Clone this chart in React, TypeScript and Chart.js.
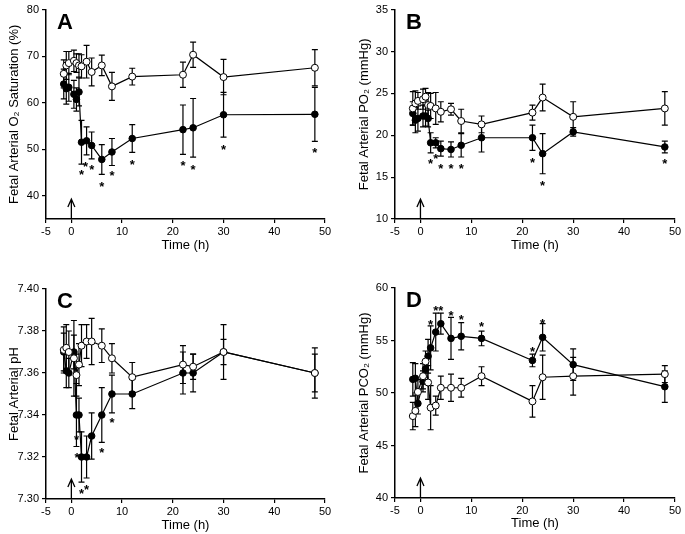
import React, { useEffect, useRef } from "react";
import { Chart, registerables } from "chart.js";
Chart.register(...registerables);

const times = [-1.5, -1, -0.5, 0.5, 1, 1.5, 2, 3, 4, 6, 8, 12, 22, 24, 30, 48];
const xTickValues = [-5, 0, 10, 20, 30, 40, 50];

// Panel A: O2 saturation (%)
const aOpen = [66.2, 68.0, 68.5, 69.0, 68.5, 68.0, 67.8, 68.8, 66.6, 68.0, 63.5, 65.6, 66.0, 70.3, 65.5, 67.5];
const aOpenErr = [3.0, 3.0, 2.5, 2.3, 2.0, 2.5, 2.5, 3.5, 3.0, 2.2, 3.0, 1.8, 2.7, 2.7, 3.8, 3.9];
const aClosed = [64.0, 63.0, 63.3, 61.8, 60.7, 62.3, 51.5, 51.8, 50.8, 47.8, 49.4, 52.3, 54.2, 54.6, 57.4, 57.5];
const aClosedErr = [3.2, 3.3, 3.0, 3.0, 2.5, 3.0, 4.7, 3.0, 2.9, 3.2, 2.9, 3.0, 5.3, 6.3, 4.8, 5.8];
const aStarsX = [2, 2.8, 4, 6, 8, 12, 22, 24, 30, 48];
const aStarsY = [45.3, 47.0, 46.4, 42.8, 45.2, 47.5, 47.2, 46.4, 50.7, 50.1];
const aYTicks = [40, 50, 60, 70, 80];

// Panel B: PO2 (mmHg)
const bOpen = [23.2, 23.8, 24.1, 24.3, 24.6, 23.6, 23.5, 23.2, 22.8, 23.1, 21.7, 21.3, 22.7, 24.5, 22.2, 23.2];
const bOpenErr = [2.0, 1.5, 1.0, 1.2, 1.0, 1.5, 1.5, 1.9, 1.2, 0.7, 1.4, 1.0, 0.9, 1.6, 1.8, 2.0];
const bClosed = [22.6, 21.8, 22.0, 22.3, 22.3, 22.0, 19.1, 19.1, 18.4, 18.3, 18.8, 19.7, 19.7, 17.8, 20.4, 18.6];
const bClosedErr = [1.4, 1.5, 1.5, 1.3, 1.2, 1.0, 1.2, 0.6, 0.9, 0.9, 1.4, 1.7, 1.5, 2.4, 0.5, 0.7];
const bStarsX = [2, 3, 4, 6, 8, 22, 24, 48];
const bStarsY = [17.0, 17.7, 16.5, 16.5, 16.5, 17.2, 14.4, 17.0];
const bYTicks = [10, 15, 20, 25, 30, 35];

// Panel C: pH
const cOpen = [7.371, 7.372, 7.370, 7.367, 7.359, 7.364, 7.373, 7.375, 7.375, 7.373, 7.367, 7.358, 7.364, 7.363, 7.370, 7.360];
const cOpenErr = [0.011, 0.011, 0.010, 0.018, 0.010, 0.010, 0.010, 0.008, 0.011, 0.008, 0.007, 0.007, 0.009, 0.006, 0.013, 0.012];
const cClosed = [7.370, 7.361, 7.360, 7.370, 7.340, 7.340, 7.320, 7.320, 7.330, 7.340, 7.350, 7.350, 7.360, 7.360, 7.370, 7.360];
const cClosedErr = [0.009, 0.008, 0.007, 0.008, 0.015, 0.008, 0.012, 0.010, 0.011, 0.013, 0.009, 0.007, 0.010, 0.009, 0.006, 0.009];
const cStarsX = [1, 1.1, 2, 3, 6, 8];
const cStarsY = [7.330, 7.3214, 7.3043, 7.306, 7.3238, 7.338];
const cYTicks = [7.30, 7.32, 7.34, 7.36, 7.38, 7.40];

// Panel D: PCO2 (mmHg)
const dOpen = [47.8, 48.3, 50.1, 51.6, 53.0, 51.0, 48.6, 48.8, 50.5, 50.5, 50.5, 51.6, 49.2, 51.5, 51.6, 51.8];
const dOpenErr = [1.3, 1.5, 1.2, 1.2, 1.0, 1.6, 2.1, 0.9, 1.1, 1.3, 0.9, 0.9, 1.5, 2.1, 1.8, 0.8];
const dClosed = [51.3, 51.4, 49.0, 51.1, 52.3, 53.5, 54.3, 55.8, 56.6, 55.2, 55.4, 55.2, 53.1, 55.3, 52.7, 50.6];
const dClosedErr = [1.6, 1.4, 1.0, 1.0, 0.8, 1.6, 2.1, 1.8, 1.0, 2.0, 1.3, 0.7, 0.6, 1.3, 1.5, 1.5];
const dStarsX = [2, 3, 4, 6, 8, 12, 22, 24];
const dStarsY = [56.9, 58.2, 58.2, 57.7, 57.3, 56.7, 54.3, 57.0];
const dYTicks = [40, 45, 50, 55, 60];

const FONT = "'Liberation Sans', Arial, Helvetica, sans-serif";

type PanelProps = {
  letter: string;
  yTitle: string;
  yMin: number;
  yMax: number;
  yTicks: number[];
  decimals: number;
  open: number[];
  openErr: number[];
  closed: number[];
  closedErr: number[];
  starsX: number[];
  starsY: number[];
  left: number;
  top: number;
  width: number;
  height: number;
  padLeft: number;
  padTop: number;
  padRight: number;
  yWidth: number;
  xHeight: number;
  titlePadBottom: number;
};

function Panel(p: PanelProps) {
  const ref = useRef<HTMLCanvasElement | null>(null);
  useEffect(() => {
    if (!ref.current) return;
    const decor = {
      id: "decor",
      beforeDatasetsDraw(chart: any) {
        const ctx = chart.ctx;
        const xs = chart.scales.x;
        const ys = chart.scales.y;
        ctx.save();
        ctx.strokeStyle = "#000";
        ctx.lineWidth = 1.2;
        chart.data.datasets.forEach((ds: any) => {
          ds.data.forEach((pt: any, i: number) => {
            const e = ds.errors[i];
            const px = xs.getPixelForValue(pt.x);
            const y1 = ys.getPixelForValue(pt.y + e);
            const y2 = ys.getPixelForValue(pt.y - e);
            ctx.beginPath();
            ctx.moveTo(px, y1);
            ctx.lineTo(px, y2);
            ctx.moveTo(px - 3, y1);
            ctx.lineTo(px + 3, y1);
            ctx.moveTo(px - 3, y2);
            ctx.lineTo(px + 3, y2);
            ctx.stroke();
          });
        });
        ctx.restore();
      },
      afterDatasetsDraw(chart: any) {
        const ctx = chart.ctx;
        const xs = chart.scales.x;
        const ys = chart.scales.y;
        const area = chart.chartArea;
        ctx.save();
        ctx.fillStyle = "#000";
        ctx.font = `bold 13px ${FONT}`;
        ctx.textAlign = "center";
        ctx.textBaseline = "alphabetic";
        p.starsX.forEach((sx, i) => {
          ctx.fillText("*", xs.getPixelForValue(sx), ys.getPixelForValue(p.starsY[i]) + 8);
        });
        ctx.font = `bold 22px ${FONT}`;
        ctx.textAlign = "left";
        ctx.textBaseline = "top";
        ctx.fillText(p.letter, area.left + 11, area.top + 2);
        const ax = xs.getPixelForValue(0);
        const ab = area.bottom;
        ctx.strokeStyle = "#000";
        ctx.lineWidth = 1.3;
        ctx.beginPath();
        ctx.moveTo(ax, ab);
        ctx.lineTo(ax, ab - 20);
        ctx.moveTo(ax - 3.5, ab - 12);
        ctx.lineTo(ax, ab - 20);
        ctx.lineTo(ax + 3.5, ab - 12);
        ctx.stroke();
        ctx.restore();
      },
    };
    const mk = (vals: number[]) => vals.map((v, i) => ({ x: times[i], y: v }));
    const chart = new Chart(ref.current, {
      type: "line",
      data: {
        datasets: [
          {
            data: mk(p.open),
            errors: p.openErr,
            borderColor: "#000",
            borderWidth: 1.2,
            pointRadius: 3.5,
            pointBackgroundColor: "#fff",
            pointBorderColor: "#000",
            pointBorderWidth: 1,
            tension: 0,
          } as any,
          {
            data: mk(p.closed),
            errors: p.closedErr,
            borderColor: "#000",
            borderWidth: 1.2,
            pointRadius: 3.3,
            pointBackgroundColor: "#000",
            pointBorderColor: "#000",
            pointBorderWidth: 1,
            tension: 0,
          } as any,
        ],
      },
      options: {
        animation: false,
        responsive: false,
        events: [],
        layout: { padding: { left: p.padLeft, top: p.padTop, right: p.padRight, bottom: 0 } },
        plugins: { legend: { display: false }, tooltip: { enabled: false } },
        scales: {
          x: {
            type: "linear",
            min: -5,
            max: 50,
            afterBuildTicks: (s: any) => {
              s.ticks = xTickValues.map((v) => ({ value: v }));
            },
            afterFit: (s: any) => {
              s.height = p.xHeight;
            },
            ticks: { color: "#000", font: { family: FONT, size: 11 }, padding: 2, maxRotation: 0, autoSkip: false },
            grid: { display: true, drawOnChartArea: false, drawTicks: true, tickLength: 4, color: "#000", lineWidth: 1.2 },
            border: { display: true, color: "#000", width: 1.5 },
            title: {
              display: true,
              text: "Time (h)",
              color: "#000",
              font: { family: FONT, size: 13 },
              padding: { top: 0, bottom: p.titlePadBottom },
            },
          },
          y: {
            type: "linear",
            min: p.yMin,
            max: p.yMax,
            afterBuildTicks: (s: any) => {
              s.ticks = p.yTicks.map((v) => ({ value: v }));
            },
            afterFit: (s: any) => {
              s.width = p.yWidth;
            },
            ticks: {
              color: "#000",
              font: { family: FONT, size: 11 },
              padding: 3,
              callback: (v: any) => Number(v).toFixed(p.decimals),
            },
            grid: { display: true, drawOnChartArea: false, drawTicks: true, tickLength: 4, color: "#000", lineWidth: 1.2 },
            border: { display: true, color: "#000", width: 1.5 },
            title: {
              display: true,
              text: p.yTitle,
              color: "#000",
              font: { family: FONT, size: 13 },
              padding: { top: 7, bottom: 0 },
            },
          },
        },
      },
      plugins: [decor],
    } as any);
    return () => chart.destroy();
  }, []);
  return (
    <canvas
      ref={ref}
      width={p.width}
      height={p.height}
      style={{ position: "absolute", left: p.left, top: p.top, width: p.width, height: p.height }}
    />
  );
}

export default function App() {
  return (
    <div style={{ position: "absolute", left: 0, top: 0, width: 685, height: 534, background: "#fff" }}>
      <Panel
        letter="A"
        yTitle="Fetal Arterial O₂ Saturation (%)"
        yMin={35}
        yMax={80}
        yTicks={aYTicks}
        decimals={0}
        open={aOpen}
        openErr={aOpenErr}
        closed={aClosed}
        closedErr={aClosedErr}
        starsX={aStarsX}
        starsY={aStarsY}
        left={0}
        top={0}
        width={340}
        height={260}
        padLeft={0}
        padTop={8}
        padRight={15}
        yWidth={46}
        xHeight={41}
        titlePadBottom={7}
      />
      <Panel
        letter="B"
        yTitle="Fetal Arterial PO₂ (mmHg)"
        yMin={10}
        yMax={35}
        yTicks={bYTicks}
        decimals={0}
        open={bOpen}
        openErr={bOpenErr}
        closed={bClosed}
        closedErr={bClosedErr}
        starsX={bStarsX}
        starsY={bStarsY}
        left={340}
        top={0}
        width={345}
        height={260}
        padLeft={10}
        padTop={8}
        padRight={10}
        yWidth={45}
        xHeight={41}
        titlePadBottom={7}
      />
      <Panel
        letter="C"
        yTitle="Fetal Arterial pH"
        yMin={7.3}
        yMax={7.4}
        yTicks={cYTicks}
        decimals={2}
        open={cOpen}
        openErr={cOpenErr}
        closed={cClosed}
        closedErr={cClosedErr}
        starsX={cStarsX}
        starsY={cStarsY}
        left={0}
        top={260}
        width={340}
        height={274}
        padLeft={0}
        padTop={29}
        padRight={15}
        yWidth={46}
        xHeight={35}
        titlePadBottom={1}
      />
      <Panel
        letter="D"
        yTitle="Fetal Arterial PCO₂ (mmHg)"
        yMin={40}
        yMax={60}
        yTicks={dYTicks}
        decimals={0}
        open={dOpen}
        openErr={dOpenErr}
        closed={dClosed}
        closedErr={dClosedErr}
        starsX={dStarsX}
        starsY={dStarsY}
        left={340}
        top={260}
        width={345}
        height={274}
        padLeft={10}
        padTop={28}
        padRight={10}
        yWidth={45}
        xHeight={36}
        titlePadBottom={3}
      />
    </div>
  );
}
